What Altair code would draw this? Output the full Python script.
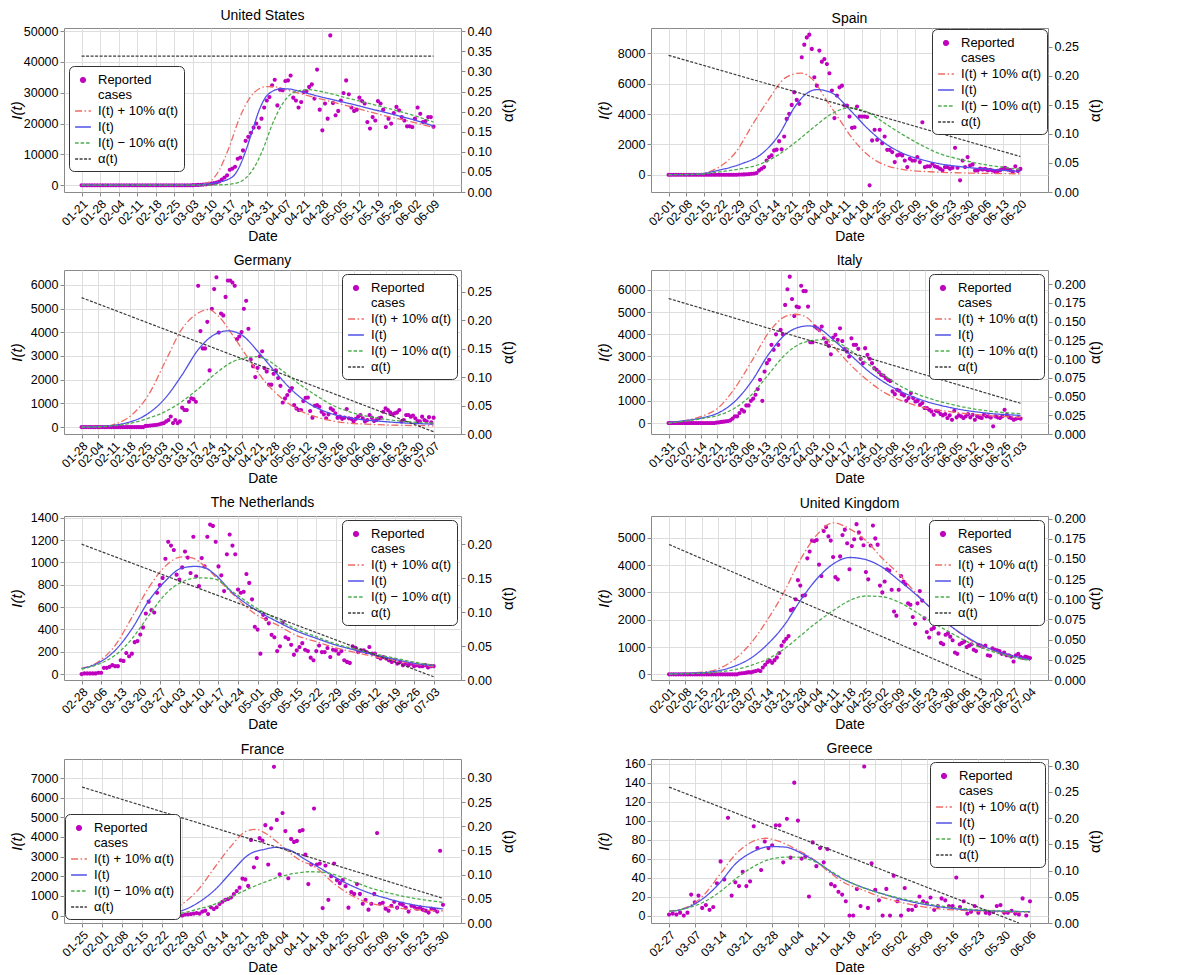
import altair as alt
import pandas as pd

FONT = "Liberation Sans, Arial, sans-serif"

# ---------------- data ----------------
us_ticks = ["01-21","01-28","02-04","02-11","02-18","02-25","03-03","03-10","03-17","03-24",
            "03-31","04-07","04-21","04-28","05-05","05-12","05-19","05-26","06-02","06-09"]
us_cases = [0,0,0,0,0,0,0,0,0,0, 0,0,0,0,0,0,0,0,0,0, 0,0,0,0,0,0,0,0,0,0, 0,0,0,0,0,0,0,0,0,0,
            0,0,
            30,60,100,150,200,280,400,500,700,900,
            1200,1800,2500,3200,5000,5400,6000,8600,9000,11300,
            14400,15700,17000,18700,20000,18700,21600,25200,27500,28600,
            32400,34200,25900,31000,30800,33800,34000,35600,28400,27500,
            25200,27000,30200,30500,31900,32700,28100,37500,24500,17800,
            26500,21600,48600,26700,22700,24100,27500,29900,34000,29500,
            25200,24100,24500,28400,27300,26500,20500,18400,22100,21000,
            27300,26500,24500,18900,21600,20000,23400,25400,24300,22100,
            21000,19100,19100,18900,21600,25200,23200,20500,20800,22100,
            22100,19000]
us_up = [(0,0),(40,30),(44.4,200),(48.2,1000),(52,4900),(55.8,12400),(59.6,21600),(63.4,28100),
         (67.1,31300),(69.6,32000),(73.4,31900),(77.2,31000),(89.8,28100),(101.2,25600),
         (113.8,22700),(126.4,20200),(133,18700)]
us_mid = [(0,0),(40,50),(46,300),(50.7,800),(57,2700),(59.6,5900),(62.1,11300),(64.6,17800),
          (67.1,24300),(69.6,28600),(72.2,30500),(75.3,31300),(78.5,31200),(82.3,30500),
          (89.8,28800),(101.2,26500),(113.8,23800),(126.4,21000),(133,19200)]
us_low = [(0,0),(45,30),(54.5,200),(59.6,1000),(64.6,4900),(68.4,11300),(72.2,20000),(76,26500),
          (79.7,29900),(82.9,30800),(86,31000),(89.8,30500),(101.2,28100),(113.8,25400),
          (126.4,22400),(133,20500)]
us_alpha = [(0,0.338),(133,0.338)]
us_yticks = [0,10000,20000,30000,40000,50000]
us_aticks = [0,0.05,0.10,0.15,0.20,0.25,0.30,0.35,0.40]

es_ticks = ["02-01","02-08","02-15","02-22","02-29","03-07","03-14","03-21","03-28","04-04","04-11",
            "04-18","04-25","05-02","05-09","05-16","05-23","05-30","06-06","06-13","06-20"]
es_cases = [0,0,0,0,0,0,0,0,0,0, 0,0,0,0,0,0,0,0,0,0, 0,0,0,0,0,0,0,0,
            10,15,20,30,40,60,80,
            110,285,395,500,940,1160,1270,1600,1650,2210,
            1670,2520,3680,4010,4600,5440,4930,4670,7740,8570,
            9050,9230,8290,6420,5870,8180,7450,7630,7300,6690,
            5550,3730,5220,5760,5870,4560,4560,3840,3090,3130,
            4490,3840,3840,3840,3800,-700,2260,2960,2300,2960,
            2080,2520,1640,1640,1490,830,1270,1340,1270,940,
            500,1050,940,940,1160,830,3460,500,550,550,
            720,550,500,400,285,500,500,400,460,1780,
            460,-370,940,500,1160,610,680,285,285,400,
            350,380,300,330,280,200,250,300,420,450,
            350,300,200,550,250,380]
es_up = [(0,0),(10.9,40),(20.1,500),(26.8,1500),(33.4,3300),(40,5000),(46.6,6400),(52.6,6700),
         (57.2,6300),(62.5,5000),(67.8,3700),(73.1,2400),(79.7,1250),(86.4,620),(93,350),
         (106.3,175),(119.5,110),(140,60)]
es_mid = [(0,0),(10.9,30),(20.1,300),(29,720),(36.2,1270),(43.3,2480),(50.6,4560),(54.5,5300),
          (59.2,5610),(64.9,5400),(72,4300),(79.2,3050),(86.4,2040),(93.7,1380),(100.8,990),
          (107.9,720),(115.1,550),(129.6,330),(140,220)]
es_low = [(0,0),(10.9,20),(21.9,220),(29,400),(36.2,680),(43.3,1270),(50.6,2150),(57.8,3130),
          (64.9,4010),(71.8,4400),(79.2,4120),(86.4,3350),(93.7,2590),(100.8,1930),(107.9,1380),
          (115.1,1050),(122.4,770),(129.6,570),(140,350)]
es_alpha = [(0,0.235),(140,0.061)]
es_yticks = [0,2000,4000,6000,8000]
es_aticks = [0,0.05,0.10,0.15,0.20,0.25]

de_ticks = ["01-28","02-04","02-11","02-18","02-25","03-03","03-10","03-17","03-24","03-31","04-07",
            "04-21","04-28","05-05","05-12","05-19","05-26","06-02","06-09","06-16","06-23","06-30","07-07"]
de_cases = [0,0,0,0,0,0,0,0,0,0, 0,0,0,0,0,0,0,0,0,0, 0,0,0,0,0,0,0,0,
            50,60,70,80,90,100,120,150,
            170,240,300,450,170,300,170,240,820,720,
            720,1070,1210,1180,1070,5960,4050,3320,3320,4440,
            2390,4990,5820,6320,3990,4790,4710,5490,6180,6180,
            6100,5960,3710,3820,4010,4990,5330,4150,2850,2570,
            2110,2500,2990,3200,2490,2350,1790,1790,2250,2390,
            2070,1740,1040,1210,1350,1530,1650,930,790,720,
            720,1100,1240,1250,680,400,900,930,860,650,
            540,375,540,790,720,580,400,440,350,400,
            760,375,350,240,350,440,510,375,240,300,
            510,400,260,300,375,400,650,790,720,620,
            540,580,620,720,240,300,510,510,440,490,
            375,260,240,440,300,250,420,200,400]
de_up = [(0,0),(7.2,10),(14.6,125),(21.9,510),(29.2,1350),(36.5,2740),(43.8,4125),(51.2,4820),
         (55.5,4960),(59.9,4680),(65.8,3920),(73.1,2875),(80.4,1900),(87.7,1210),(95,720),
         (102.4,440),(109.7,260),(124.4,125),(154,55)]
de_mid = [(0,0),(7.2,20),(21.9,240),(29.2,580),(36.5,1210),(43.8,2180),(51.2,3290),(58.5,3920),
          (64.3,4060),(70.2,3875),(77.5,3150),(84.8,2320),(92.1,1555),(99.4,1000),(106.8,650),
          (117,400),(131.6,240),(154,125)]
de_low = [(0,0),(7.2,15),(21.9,170),(29.2,375),(36.5,650),(43.8,1070),(51.2,1625),(58.5,2250),
          (65.8,2740),(73.1,2940),(76.8,2970),(80.4,2875),(87.7,2390),(95,1830),(102.4,1350),
          (109.7,930),(117,650),(131.6,350),(154,170)]
de_alpha = [(0,0.2395),(154,0.004)]
de_yticks = [0,1000,2000,3000,4000,5000,6000]
de_aticks = [0,0.05,0.10,0.15,0.20,0.25]

it_ticks = ["01-31","02-07","02-14","02-21","02-28","03-06","03-13","03-20","03-27","04-03","04-10",
            "04-17","04-24","05-01","05-08","05-15","05-22","05-29","06-05","06-12","06-19","06-26","07-03"]
it_cases = [0,0,0,0,0,0,0,0,0,0, 0,0,0,0,0,0,0,0,0,0, 0,
            20,30,50,60,80,90,120,200,
            300,300,450,600,525,795,795,1000,1100,1275,
            1530,1950,1000,2325,2700,2850,3525,3300,4000,3525,
            4200,4000,5325,6030,6600,5590,4830,5250,5220,6190,
            5950,5950,5250,3645,3645,4350,4275,4200,4350,3825,
            3630,3480,3100,3855,3975,3750,4275,3700,3330,3225,
            3000,3825,3525,3525,3345,2895,2700,3375,3075,
            2900,2700,2475,2400,2300,2175,2145,2025,1950,1900,
            1425,1300,1500,1455,1300,1245,1000,1125,1350,1125,
            975,1000,825,900,675,675,600,525,375,555,
            525,405,345,400,225,345,150,555,255,345,
            300,225,300,405,255,375,150,300,255,225,
            375,300,300,250,-150,300,255,225,300,600,
            375,255,225,150,195,225,200]
it_up = [(0,0),(7,105),(14.3,300),(21.6,675),(29,1575),(36.3,2775),(43.6,4050),(50.9,4800),
         (55.4,4905),(59.8,4800),(65.6,4200),(72.9,3375),(80.3,2550),(87.6,1875),(94.9,1350),
         (102.2,1000),(109.6,750),(124.3,495),(138.9,345),(154,255)]
it_mid = [(0,20),(7,105),(14.3,225),(21.6,450),(29,975),(36.3,1875),(43.6,3075),(50.9,3975),
          (58.2,4350),(61.1,4380),(65.6,4275),(72.9,3675),(80.3,3000),(87.6,2325),(94.9,1800),
          (102.2,1395),(109.6,1080),(124.3,675),(138.9,450),(154,345)]
it_low = [(0,0),(14.3,195),(21.6,345),(29,675),(36.3,1275),(43.6,2175),(50.9,3075),(58.2,3600),
          (65.6,3750),(68.5,3765),(72.9,3675),(80.3,3225),(87.6,2625),(94.9,2100),(102.2,1620),
          (109.6,1275),(124.3,825),(138.9,555),(154,420)]
it_alpha = [(0,0.181),(154,0.041)]
it_yticks = [0,1000,2000,3000,4000,5000,6000]
it_aticks = [0,0.025,0.05,0.075,0.10,0.125,0.15,0.175,0.20]

nl_ticks = ["02-28","03-06","03-13","03-20","03-27","04-03","04-10","04-17","04-24","05-01",
            "05-08","05-15","05-22","05-29","06-05","06-12","06-19","06-26","07-03"]
nl_cases = [0,6,6,6,6,6,12,12,56,56,
            65,80,71,71,124,118,189,160,183,286,
            295,354,418,542,648,572,551,728,796,861,
            1032,1185,1150,1111,890,846,955,1097,1043,905,
            1229,876,787,1038,964,1229,1338,1326,1185,964,
            884,743,1073,1249,1150,1073,757,728,737,896,
            816,669,424,398,183,530,492,454,351,330,
            206,248,463,330,315,262,174,212,242,277,
            218,206,147,124,206,256,197,197,233,153,
            218,212,183,206,124,109,100,248,236,197,
            212,212,197,242,183,183,153,139,153,139,
            124,109,124,94,109,80,94,80,94,71,
            80,71,71,80,59,71,71]
nl_up = [(0,50),(6,110),(12,256),(18,507),(24,772),(29.9,964),(35.9,1050),(39.5,1040),(44.3,960),
         (47.8,875),(53.9,720),(62,540),(70,440),(77,345),(84,290),(91,235),(98.6,190),(106,150),
         (112.5,120),(119.5,90),(126,65)]
nl_mid = [(0,50),(6,100),(12,212),(18,404),(24,654),(29.9,831),(35.9,949),(40.7,964),(44.3,950),
          (47.8,890),(53.9,730),(62,580),(70,470),(77,385),(84,320),(91,260),(98.6,210),(106,165),
          (112.5,130),(119.5,95),(126,75)]
nl_low = [(0,45),(6,88),(12,168),(18,315),(24,522),(29.9,713),(35.9,825),(41.9,861),(44.3,860),
          (47.8,850),(53.9,740),(62,600),(70,490),(77,400),(84,335),(91,270),(98.6,220),(106,175),
          (112.5,140),(119.5,105),(126,80)]
nl_alpha = [(0,0.20),(126,0.0048)]
nl_yticks = [0,200,400,600,800,1000,1200,1400]
nl_aticks = [0,0.05,0.10,0.15,0.20]

uk_ticks = ["02-01","02-08","02-15","02-22","02-29","03-07","03-14","03-21","03-28","04-04","04-11",
            "04-18","04-25","05-02","05-09","05-16","05-23","05-30","06-06","06-13","06-20","06-27","07-04"]
uk_cases = [0,0,0,0,0,0,0,0,0,0, 0,0,0,0,0,0,0,0,0,0, 0,0,0,0,0,0,0,0,0,0,
            30,40,50,60,80,70,
            100,120,150,120,250,350,
            450,500,420,520,620,780,1050,
            1200,1300,1400,2350,2400,2750,3450,
            3250,2880,2900,4250,4500,4900,4880,
            4920,4020,3600,5250,5400,5060,4900,
            4300,3560,3480,4320,5100,5300,4800,
            3850,4700,4950,5500,5200,4980,4730,
            3750,3480,4720,5450,4980,4750,3250,
            3000,3400,3850,3800,3100,2300,2150,
            3100,3600,3400,3300,2600,2550,2100,
            1850,2600,3050,2700,2050,1550,1350,
            1650,1700,1850,1500,1150,1100,1450,
            1500,1380,1250,800,750,1100,1150,
            1200,1000,1050,1100,900,850,1080,
            1050,1000,1050,700,680,950,900,
            880,850,750,800,700,700,650,
            470,700,750,640,600,650,620,600]
uk_up = [(0,20),(14,80),(21,200),(28,550),(35,1150),(42,2000),(49,3000),(56,4200),(63,5100),
         (70,5550),(77,5330),(84,4900),(91,4250),(98,3680),(105,3000),(112,2400),(119,1850),
         (126,1400),(133,1050),(140,820),(147,650),(154,520)]
uk_mid = [(0,20),(14,60),(21,130),(28,300),(35,600),(42,1100),(49,1780),(56,2700),(63,3490),
          (70,4040),(77,4280),(84,4200),(91,3920),(98,3450),(105,2950),(112,2400),(119,1850),
          (126,1420),(133,1080),(140,840),(147,670),(154,540)]
uk_low = [(0,10),(14,40),(21,80),(28,170),(35,330),(42,560),(49,920),(56,1410),(63,1900),
          (70,2330),(77,2700),(84,2870),(91,2840),(98,2650),(105,2300),(112,1920),(119,1580),
          (126,1250),(133,980),(140,780),(147,620),(154,500)]
uk_alpha = [(0,0.168),(133.7,0.0)]
uk_yticks = [0,1000,2000,3000,4000,5000]
uk_aticks = [0,0.025,0.05,0.075,0.10,0.125,0.15,0.175,0.20]

fr_ticks = ["01-25","02-01","02-08","02-15","02-22","02-29","03-07","03-14","03-21","03-28",
            "04-04","04-11","04-18","04-25","05-02","05-09","05-16","05-23","05-30"]
fr_cases = [0,0,0,0,0,0,0,0,0,0, 0,0,0,0,0,0,0,0,0,0, 0,0,0,0,0,0,0,0,0,0, 0,0,0,0,0,0,
            50,60,80,100,130,100,
            200,250,80,420,335,420,590,700,800,840,920,1090,1250,
            1420,1880,1840,1510,3850,2460,2930,3940,3820,4600,2600,4440,
            7578,4870,2100,5220,4300,1900,3900,3750,3800,4300,
            4350,3100,1600,2600,5450,2600,2650,380,2550,800,
            2000,2650,1800,1650,1800,1500,400,1200,1100,1600,
            1100,600,800,300,600,1100,4200,600,650,350,
            250,500,700,400,600,550,400,200,500,450,
            350,400,300,250,150,350,300,200,3300,550]
fr_up = [(0,0),(23.2,20),(29,170),(35,590),(40.7,1340),(46.6,2510),(52.4,3600),(57,4270),
         (60.6,4390),(64,4190),(69.9,3520),(75.7,2850),(81.6,2450),(87.4,1700),(93.2,1100),
         (99,700),(104.9,500),(110.7,370),(126,235)]
fr_mid = [(0,0),(23.2,30),(29,80),(34.9,250),(40.7,670),(46.6,1340),(52.4,2260),(58.2,3100),
          (64,3380),(67.6,3470),(72.2,3350),(78,2850),(83.9,2345),(89.7,1840),(95.6,1420),
          (101.4,1090),(107.2,840),(114.2,590),(126,335)]
fr_low = [(0,0),(29,30),(34.9,130),(40.7,335),(46.6,590),(52.4,970),(58.2,1370),(64,1710),
          (69.9,2010),(75.7,2180),(79.2,2230),(83.9,2210),(89.7,2010),(95.6,1675),(101.4,1370),
          (107.2,1140),(114.2,920),(126,670)]
fr_alpha = [(0,0.281),(126,0.051)]
fr_yticks = [0,1000,2000,3000,4000,5000,6000,7000]
fr_aticks = [0,0.05,0.10,0.15,0.20,0.25,0.30]

gr_ticks = ["02-27","03-07","03-14","03-21","03-28","04-04","04-11","04-18","04-25","05-02",
            "05-09","05-16","05-23","05-30","06-06"]
gr_cases = [1,2,1,3,0,3,22,14,21,8,
            11,6,9,34,57,38,103,21,35,31,
            46,31,36,94,71,48,78,71,74,95,
            95,56,102,61,140,100,60,62,20,77,
            52,71,56,70,33,31,25,22,15,0,
            0,28,10,157,8,55,27,16,0,28,
            0,42,15,0,29,6,6,10,20,15,
            13,19,6,10,18,16,10,10,40,9,
            15,2,4,10,3,20,3,2,4,10,
            11,3,3,5,2,1,18,0,15]
gr_up = [(0,4.4),(4.7,8.5),(9.2,20.5),(13.7,42.7),(18.2,65),(22.7,78),(26.3,81.4),(29.9,78),
         (34.4,70),(38.9,60),(43.4,46),(47.8,34),(52.3,27.4),(56.8,20.5),(63.1,13.7),(72.1,7.5),
         (81.1,5.1),(98,3.4)]
gr_mid = [(0,4.4),(4.7,7.9),(9.2,17.8),(13.7,34),(18.2,55),(22.7,67),(27.2,72.5),(29,72.5),
          (31.7,72),(36.2,65),(40.7,55),(45.2,42.7),(49.7,34),(54.2,27.4),(58.7,22),(63.1,17),
          (72.1,10),(81.1,6),(98,4)]
gr_low = [(0,4),(4.7,7.5),(9.2,13.7),(13.7,24.6),(18.2,39),(22.7,51),(27.2,59),(31.7,61.5),
          (34.4,61.5),(38.9,58),(43.4,48),(47.8,37.6),(52.3,30),(56.8,24),(63.1,17.8),(72.1,11),
          (81.1,6.8),(98,4)]
gr_alpha = [(0,0.259),(95,0.0)]
gr_yticks = [0,20,40,60,80,100,120,140,160]
gr_aticks = [0,0.05,0.10,0.15,0.20,0.25,0.30]

# ---------------- styling ----------------
KEYS = ["obs", "up", "mid", "low", "alpha"]
COLORS = ["#bf00bf", "#ef6b63", "#5151e6", "#4cad4c", "#3c3c3c"]
DASHES = [[1, 0], [7, 2.5, 1.5, 2.5], [1, 0], [3.5, 2], [3, 1.5]]
DOT = "M0,-0.3A0.3,0.3,0,1,1,0,0.3A0.3,0.3,0,1,1,0,-0.3Z"
SHAPES = [DOT, "stroke", "stroke", "stroke", "stroke"]
LABEL_EXPR = ("datum.value == 'obs' ? ['Reported', 'cases'] : "
              "datum.value == 'up' ? 'I(t) + 10% α(t)' : "
              "datum.value == 'mid' ? 'I(t)' : "
              "datum.value == 'low' ? 'I(t) − 10% α(t)' : 'α(t)'")
W, H = 397, 164

PANELS = [
    dict(name="United States", ticks=us_ticks, cases=us_cases, up=us_up, mid=us_mid, low=us_low,
         alpha=us_alpha, xdom=[-6.65, 143.4], ydom=[-2200, 51000], yticks=us_yticks,
         adom=[0, 0.408], aticks=us_aticks, afmt=".2f",
         legend=dict(orient="none", legendX=5, legendY=38)),
    dict(name="Spain", ticks=es_ticks, cases=es_cases, up=es_up, mid=es_mid, low=es_low,
         alpha=es_alpha, xdom=[-7, 151], ydom=[-1140, 9670], yticks=es_yticks,
         adom=[0, 0.282], aticks=es_aticks, afmt=".2f",
         legend=dict(orient="top-right", offset=1)),
    dict(name="Germany", ticks=de_ticks, cases=de_cases, up=de_up, mid=de_mid, low=de_low,
         alpha=de_alpha, xdom=[-7.7, 166], ydom=[-290, 6625], yticks=de_yticks,
         adom=[0, 0.288], aticks=de_aticks, afmt=".2f",
         legend=dict(orient="top-right", offset=4)),
    dict(name="Italy", ticks=it_ticks, cases=it_cases, up=it_up, mid=it_mid, low=it_low,
         alpha=it_alpha, xdom=[-7.7, 166], ydom=[-495, 6900], yticks=it_yticks,
         adom=[0, 0.219], aticks=it_aticks, afmt=".3f",
         legend=dict(orient="top-right", offset=4)),
    dict(name="The Netherlands", ticks=nl_ticks, cases=nl_cases, up=nl_up, mid=nl_mid, low=nl_low,
         alpha=nl_alpha, xdom=[-6.3, 135.8], ydom=[-53, 1415], yticks=nl_yticks,
         adom=[0, 0.2415], aticks=nl_aticks, afmt=".2f",
         legend=dict(orient="top-right", offset=4)),
    dict(name="United Kingdom", ticks=uk_ticks, cases=uk_cases, up=uk_up, mid=uk_mid, low=uk_low,
         alpha=uk_alpha, xdom=[-7.7, 161.7], ydom=[-208, 5800], yticks=uk_yticks,
         adom=[0, 0.2033], aticks=uk_aticks, afmt=".3f",
         legend=dict(orient="top-right", offset=4)),
    dict(name="France", ticks=fr_ticks, cases=fr_cases, up=fr_up, mid=fr_mid, low=fr_low,
         alpha=fr_alpha, xdom=[-6.3, 132.3], ydom=[-380, 7970], yticks=fr_yticks,
         adom=[0, 0.339], aticks=fr_aticks, afmt=".2f",
         legend=dict(orient="none", legendX=1, legendY=55)),
    dict(name="Greece", ticks=gr_ticks, cases=gr_cases, up=gr_up, mid=gr_mid, low=gr_low,
         alpha=gr_alpha, xdom=[-4.9, 102.9], ydom=[-7.9, 164.9], yticks=gr_yticks,
         adom=[0, 0.3125], aticks=gr_aticks, afmt=".2f",
         legend=dict(orient="top-right", offset=3)),
]


def make_panel(p):
    ticks = p["ticks"]
    tick_pos = [7 * i for i in range(len(ticks))]
    lab = "[" + ",".join("'" + t + "'" for t in ticks) + "][round(datum.value / 7)]"

    cases = p["cases"]
    cdf = pd.DataFrame({"idx": list(range(len(cases))), "value": cases, "key": ["obs"] * len(cases)})
    rows = []
    for k in ["up", "mid", "low"]:
        for (i, v) in p[k]:
            rows.append({"idx": i, "value": v, "key": k})
    mdf = pd.DataFrame(rows)
    adf = pd.DataFrame([{"idx": i, "a": v, "key": "alpha"} for (i, v) in p["alpha"]])

    xs = alt.Scale(domain=p["xdom"], nice=False, zero=False)
    xax = alt.Axis(values=tick_pos, labelExpr=lab, labelAngle=315, labelFontSize=12, title="Date",
                   titleFontSize=14, titlePadding=2, grid=True, tickSize=4, labelPadding=2,
                   labelOverlap=False, labelFlush=False)
    ys = alt.Scale(domain=p["ydom"], nice=False, zero=False)
    yax = alt.Axis(values=p["yticks"], format="d", title="I(t)", titleFontStyle="italic",
                   titleFontSize=15, grid=True, minExtent=38, maxExtent=38, titlePadding=2,
                   labelFontSize=12.5, tickSize=4, labelPadding=2, labelOverlap=False, labelFlush=False)
    ascale = alt.Scale(domain=p["adom"], nice=False, zero=False)
    aax = alt.Axis(orient="right", values=p["aticks"], format=p["afmt"], title="α(t)",
                   titleFontSize=15, titleAngle=270, grid=False, minExtent=48, maxExtent=48,
                   titlePadding=6, labelFontSize=12.5, tickSize=4, labelPadding=2,
                   labelOverlap=False, labelFlush=False)
    leg = alt.Legend(title=None, fillColor="white", strokeColor="#333333", cornerRadius=5, padding=5,
                     labelFontSize=13, labelFont=FONT, labelColor="black", symbolSize=250,
                     symbolStrokeWidth=1.3, rowPadding=0, labelOffset=6, labelExpr=LABEL_EXPR,
                     **p["legend"])
    color = alt.Color("key:N", scale=alt.Scale(domain=KEYS, range=COLORS), legend=leg)
    dash = alt.StrokeDash("key:N", scale=alt.Scale(domain=KEYS, range=DASHES), legend=leg)

    sc = alt.Chart(cdf).mark_point(filled=True, color=COLORS[0], size=190, opacity=1).encode(
        x=alt.X("idx:Q", scale=xs, axis=xax),
        y=alt.Y("value:Q", scale=ys, axis=yax),
        shape=alt.Shape("key:N", scale=alt.Scale(domain=KEYS, range=SHAPES), legend=leg),
    )
    cv = alt.Chart(mdf).mark_line(strokeWidth=1.3, interpolate="monotone").encode(
        x=alt.X("idx:Q", scale=xs, axis=xax),
        y=alt.Y("value:Q", scale=ys, axis=yax),
        color=color,
        strokeDash=dash,
    )
    al = alt.Chart(adf).mark_line(strokeWidth=1.2).encode(
        x=alt.X("idx:Q", scale=xs, axis=xax),
        y=alt.Y("a:Q", scale=ascale, axis=aax),
        color=color,
        strokeDash=dash,
    )
    return alt.layer(alt.layer(sc, cv), al).resolve_scale(y="independent").properties(
        width=W, height=H,
        title=alt.TitleParams(p["name"], fontSize=14, fontWeight="normal", offset=2, font=FONT,
                              frame="group", color="black"))


chart = alt.concat(*[make_panel(p) for p in PANELS], columns=2,
                   spacing={"row": 9, "column": 79}).resolve_scale(
    color="independent", shape="independent", strokeDash="independent"
).resolve_legend(color="independent", shape="independent", strokeDash="independent").properties(
    padding=0)

chart = chart.configure(font=FONT).configure_view(stroke="#8a8a8a", strokeWidth=1).configure_axis(
    labelFont=FONT, titleFont=FONT, labelColor="black", titleColor="black", gridColor="#dedede",
    tickColor="#8a8a8a", domain=False, titleFontWeight="normal"
).configure_legend(labelFont=FONT)

chart.save("out.html", embed_options={"renderer": "svg", "actions": False})
